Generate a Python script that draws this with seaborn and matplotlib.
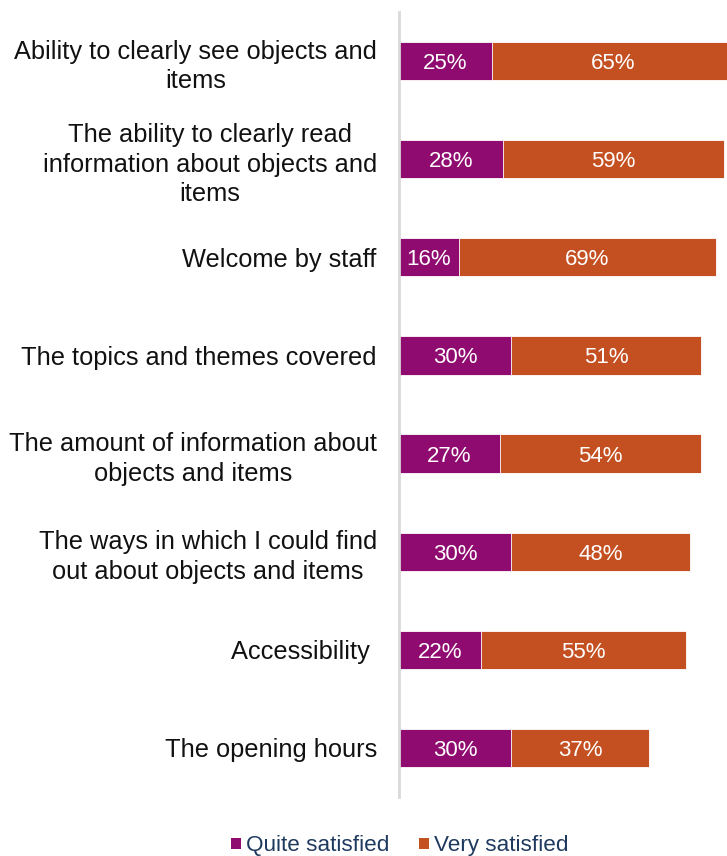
import matplotlib
matplotlib.use("Agg")
import matplotlib.pyplot as plt
import seaborn as sns
import pandas as pd
from matplotlib.patches import Patch

categories = [
    "Ability to clearly see objects and\nitems",
    "The ability to clearly read\ninformation about objects and\nitems",
    "Welcome by staff",
    "The topics and themes covered",
    "The amount of information about\nobjects and items",
    "The ways in which I could find\nout about objects and items",
    "Accessibility ",
    "The opening hours",
]
quite_satisfied = [25, 28, 16, 30, 27, 30, 22, 30]
very_satisfied = [65, 59, 69, 51, 54, 48, 55, 37]
series_names = ["Quite satisfied", "Very satisfied"]

PURPLE = "#8F0B70"
ORANGE = "#C45021"

df = pd.DataFrame({
    "category": categories,
    "quite": quite_satisfied,
    "very": very_satisfied,
})
df["total"] = df["quite"] + df["very"]

sns.set_theme(style="white")
plt.rcParams["font.family"] = ["Liberation Sans", "DejaVu Sans"]

fig = plt.figure(figsize=(7.27, 8.56), dpi=100)
ax = fig.add_axes([399 / 727, 1 - 797 / 856, 1 - 399 / 727, (797 - 12) / 856])

sns.barplot(data=df, x="total", y="category", color=ORANGE, orient="h",
            width=0.39, saturation=1, edgecolor="white", linewidth=0.6, ax=ax)
sns.barplot(data=df, x="quite", y="category", color=PURPLE, orient="h",
            width=0.39, saturation=1, edgecolor="white", linewidth=0.6, ax=ax)

for i, (q, v) in enumerate(zip(quite_satisfied, very_satisfied)):
    ax.text(q / 2, i, f"{q}%", ha="center", va="center_baseline", color="white", fontsize=16)
    ax.text(q + v / 2, i, f"{v}%", ha="center", va="center_baseline", color="white", fontsize=16)

ax.set_xlim(0, 328 / 3.73)
ax.set_ylim(7.5, -0.5)
ax.set_xlabel("")
ax.set_ylabel("")
ax.set_xticks([])
ax.tick_params(axis="y", length=0, pad=16, labelsize=18.3, labelcolor="#111111")
for lbl in ax.get_yticklabels():
    lbl.set_multialignment("center")
    lbl.set_linespacing(1.3)

for s in ["top", "right", "bottom"]:
    ax.spines[s].set_visible(False)
ax.spines["left"].set_color("#D9D9D9")
ax.spines["left"].set_linewidth(2)

handles = [Patch(facecolor=PURPLE, edgecolor="none"), Patch(facecolor=ORANGE, edgecolor="none")]
leg = fig.legend(handles, series_names, loc="center", bbox_to_anchor=(400 / 727, 1 - 846 / 856),
                 ncol=2, frameon=False, fontsize=16.2, handlelength=0.42, handleheight=0.42,
                 handletextpad=0.25, columnspacing=1.3, labelcolor="#1F3A5F")

fig.savefig("out.png", dpi=100)
